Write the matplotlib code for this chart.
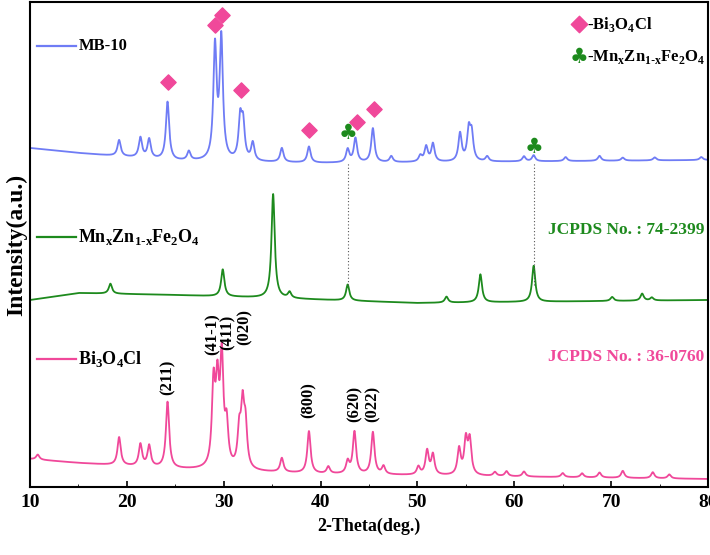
import numpy as np
import matplotlib
matplotlib.use("Agg")
import matplotlib.pyplot as plt

# --- data (heights in arbitrary intensity units above axis bottom) ---
mb_base_t = [10, 15, 25, 40, 55, 80]
mb_base_y = [339, 334, 326, 324, 325, 327]
mb_pk_t = [19.2, 21.4, 22.3, 24.2, 26.4, 29.1, 29.75, 31.7, 32.0, 33.0, 36.0, 38.8, 42.8, 43.6, 45.4, 47.3, 50.3, 50.9, 51.6, 54.4, 55.3, 55.6, 57.2, 61.0, 62.0, 65.3, 68.8, 71.2, 74.5, 79.3]
mb_pk_h = [16, 20, 19, 58, 9, 112, 120, 40, 35, 18, 14, 16, 13, 24, 34, 6, 6, 15, 18, 28, 30, 26, 5, 5, 6, 4, 5, 3, 3, 3]

mz_base_t = [10, 15, 25, 35, 50, 80]
mz_base_y = [187, 194, 192, 189, 184, 187]
mz_pk_t = [18.3, 29.9, 35.1, 36.8, 42.8, 53.0, 56.5, 62.0, 70.1, 73.2, 74.2]
mz_pk_h = [10, 27, 104, 6, 16, 6, 28, 36, 4, 7, 3]

bi_base_t = [10, 15, 25, 40, 55, 80]
bi_base_y = [28, 24, 18, 13, 11, 8]
bi_pk_t = [10.8, 19.2, 21.4, 22.3, 24.2, 28.95, 29.35, 29.8, 30.3, 31.6, 31.95, 32.25, 36.0, 38.8, 40.8, 42.8, 43.5, 45.4, 46.5, 50.1, 51.0, 51.6, 54.3, 55.0, 55.4, 58.0, 59.2, 61.0, 65.0, 67.0, 68.8, 71.2, 74.3, 76.0]
bi_pk_h = [5, 28, 22, 21, 66, 80, 75, 105, 40, 35, 58, 40, 14, 42, 7, 12, 42, 42, 8, 8, 24, 20, 26, 34, 34, 4, 5, 5, 4, 4, 5, 7, 6, 4]

hkl_labels = ["(211)", "(41-1)", "(411)", "(020)", "(800)", "(620)", "(022)"]
hkl_t = [24.2, 28.85, 30.45, 32.2, 38.8, 43.5, 45.4]
hkl_y = [92, 132, 137, 142, 69, 65, 65]

diamond_t = [24.2, 29.15, 29.85, 31.8, 38.8, 43.8, 45.5]
diamond_y = [405, 462, 472, 397, 357, 365, 378]
club_t = [42.8, 62.0]
club_y = [354, 340]
dotted_t = [42.8, 62.0]

xticks = [10, 20, 30, 40, 50, 60, 70, 80]

t = np.linspace(10, 80, 3500)

def pattern(bt, by, pt, ph, w=0.2):
    y = np.interp(t, bt, by)
    for p, h in zip(pt, ph):
        y = y + h / (1 + ((t - p) / w) ** 2)
    return y

fig = plt.figure(figsize=(7.1, 5.55), dpi=100)
ax = fig.add_axes([30/710, 68/555, 678/710, 485/555])
blue, green, pink = "#6f7cf5", "#1d8a1d", "#f0489a"
ax.plot(t, pattern(mb_base_t, mb_base_y, mb_pk_t, mb_pk_h), color=blue, lw=1.3)
ax.plot(t, pattern(mz_base_t, mz_base_y, mz_pk_t, mz_pk_h, 0.2), color=green, lw=1.3)
ax.plot(t, pattern(bi_base_t, bi_base_y, bi_pk_t, bi_pk_h), color=pink, lw=1.3)
ax.set_xlim(10, 80)
ax.set_ylim(0, 485)
ax.set_yticks([])
ax.set_xticks(xticks)
ax.xaxis.set_minor_locator(matplotlib.ticker.MultipleLocator(5))
ax.tick_params(axis="x", direction="in", length=4, width=1.2, pad=5)
ax.tick_params(axis="x", which="minor", direction="in", length=2)
for s in ax.spines.values():
    s.set_linewidth(1.5)
ser = {"family": "Liberation Serif", "weight": "bold"}
for lbl in ax.get_xticklabels():
    lbl.set_fontfamily("Liberation Serif"); lbl.set_fontweight("bold"); lbl.set_fontsize(14)
ax.set_xlabel("2-Theta(deg.)", fontsize=13, labelpad=5, **ser)
ax.set_ylabel("Intensity(a.u.)", fontsize=17, labelpad=2, **ser)

for x in dotted_t:
    ax.plot([x, x], [202, 324], color="#555555", lw=0.8, ls=(0, (1, 2)))
ax.scatter(diamond_t, diamond_y, marker="D", s=60, color="#f0489a", zorder=5)
for x, y in zip(club_t, club_y):
    ax.text(x, y, "\u2663", color=green, fontsize=15, ha="center", va="center", family="DejaVu Sans")
for lab, x, y in zip(hkl_labels, hkl_t, hkl_y):
    ax.text(x, y, lab, rotation=90, ha="center", va="bottom", fontsize=12, **ser)

# legend-like line labels
ax.plot([10.7, 14.7], [441, 441], color=blue, lw=1.6)
ax.text(15.0, 441, "MB-10", va="center", fontsize=12, **ser)
ax.plot([10.7, 14.7], [250, 250], color=green, lw=1.6)
ax.text(15.0, 250, r"Mn$_\mathregular{x}$Zn$_\mathregular{1\text{-}x}$Fe$_\mathregular{2}$O$_\mathregular{4}$", va="center", fontsize=13, **ser)
ax.plot([10.7, 14.7], [128, 128], color=pink, lw=1.6)
ax.text(15.0, 128, r"Bi$_\mathregular{3}$O$_\mathregular{4}$Cl", va="center", fontsize=13, **ser)

ax.scatter([66.7], [463], marker="D", s=70, color="#f0489a")
ax.text(67.5, 463, r"-Bi$_\mathregular{3}$O$_\mathregular{4}$Cl", va="center", fontsize=12, **ser)
ax.text(66.7, 430, "\u2663", color=green, fontsize=15, ha="center", va="center", family="DejaVu Sans")
ax.text(67.5, 430, r"-Mn$_\mathregular{x}$Zn$_\mathregular{1\text{-}x}$Fe$_\mathregular{2}$O$_\mathregular{4}$", va="center", fontsize=12, **ser)
ax.text(79.6, 257, "JCPDS No. : 74-2399", color=green, ha="right", va="center", fontsize=12.5, **ser)
ax.text(79.6, 130, "JCPDS No. : 36-0760", color=pink, ha="right", va="center", fontsize=12.5, **ser)

fig.savefig("out.png", dpi=100)
